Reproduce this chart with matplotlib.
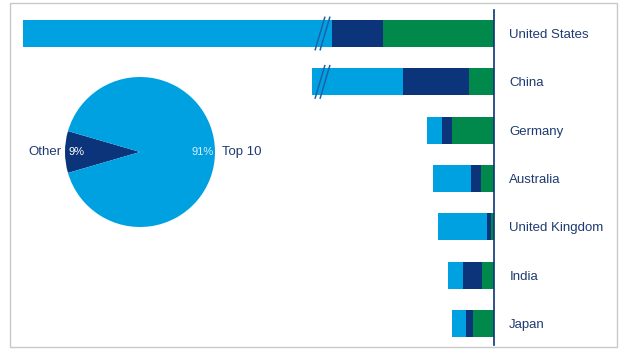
import matplotlib.pyplot as plt
from matplotlib.patches import Rectangle

plt.rcParams['font.family'] = ['Liberation Sans', 'DejaVu Sans']

# Data (bar lengths, arbitrary units; first two light-blue bars are broken)
countries = ['United States', 'China', 'Germany', 'Australia', 'United Kingdom', 'India', 'Japan']
green = [111, 25, 42, 13, 3, 12, 21]
navy = [51, 66, 10, 10, 4, 19, 7]
light = [309, 91, 15, 38, 49, 15, 14]
broken = [True, True, False, False, False, False, False]

pie_labels = ['Other', 'Top 10']
pie_shares = [9, 91]

c_light = '#00a1e0'
c_navy = '#0b347a'
c_green = '#00894a'
c_text = '#1f3a72'

W, H = 625, 357
fig = plt.figure(figsize=(W / 100, H / 100), dpi=100)

# outer frame
fig.patches.append(Rectangle((10 / W, 1 - 347 / H), 607 / W, 344 / H, transform=fig.transFigure,
                             fill=False, edgecolor='#c8c8c8', lw=1))

# bar axes: one data unit = one pixel, axis line at the right
ax = fig.add_axes([0, 1 - 345 / H, 494 / W, 335 / H])
y = list(range(len(countries)))
ax.barh(y, green, height=0.56, color=c_green)
ax.barh(y, navy, left=green, height=0.56, color=c_navy)
left2 = [g + n for g, n in zip(green, navy)]
ax.barh(y, light, left=left2, height=0.56, color=c_light)
ax.set_xlim(494, 0)
ax.set_ylim(6.445, -0.487)
for s in ['top', 'left', 'bottom']:
    ax.spines[s].set_visible(False)
ax.spines['right'].set_color(c_navy)
ax.spines['right'].set_linewidth(1.2)
ax.set_xticks([])
ax.yaxis.tick_right()
ax.set_yticks(y)
ax.set_yticklabels(countries, fontsize=9.5, color=c_text)
ax.tick_params(axis='y', length=0, pad=11)

# break marks
for i, b in enumerate(broken):
    if b:
        for dx in (0, 5):
            x0 = 174 - dx
            ax.plot([x0 + 5, x0 - 5], [i + 0.35, i - 0.35], color='#1b62a8', lw=1.1,
                    solid_capstyle='butt', clip_on=False)

# pie inset
pax = fig.add_axes([65 / W, 1 - 227 / H, 150 / W, 150 / H])
pax.pie(pie_shares, colors=[c_navy, c_light], startangle=180 - pie_shares[0] * 1.8,
        counterclock=True)
pax.set_aspect('equal')
pax.set_xlim(-1, 1)
pax.set_ylim(-1, 1)
pax.text(-0.85, 0, f'{pie_shares[0]}%', ha='center', va='center', fontsize=8, color='white')
pax.text(0.84, 0, f'{pie_shares[1]}%', ha='center', va='center', fontsize=8, color='#d8eef8')
pax.text(-1.05, 0, pie_labels[0], ha='right', va='center', fontsize=9.5, color=c_text, clip_on=False)
pax.text(1.09, 0, pie_labels[1], ha='left', va='center', fontsize=9.5, color=c_text, clip_on=False)

fig.savefig('out.png', dpi=100)
